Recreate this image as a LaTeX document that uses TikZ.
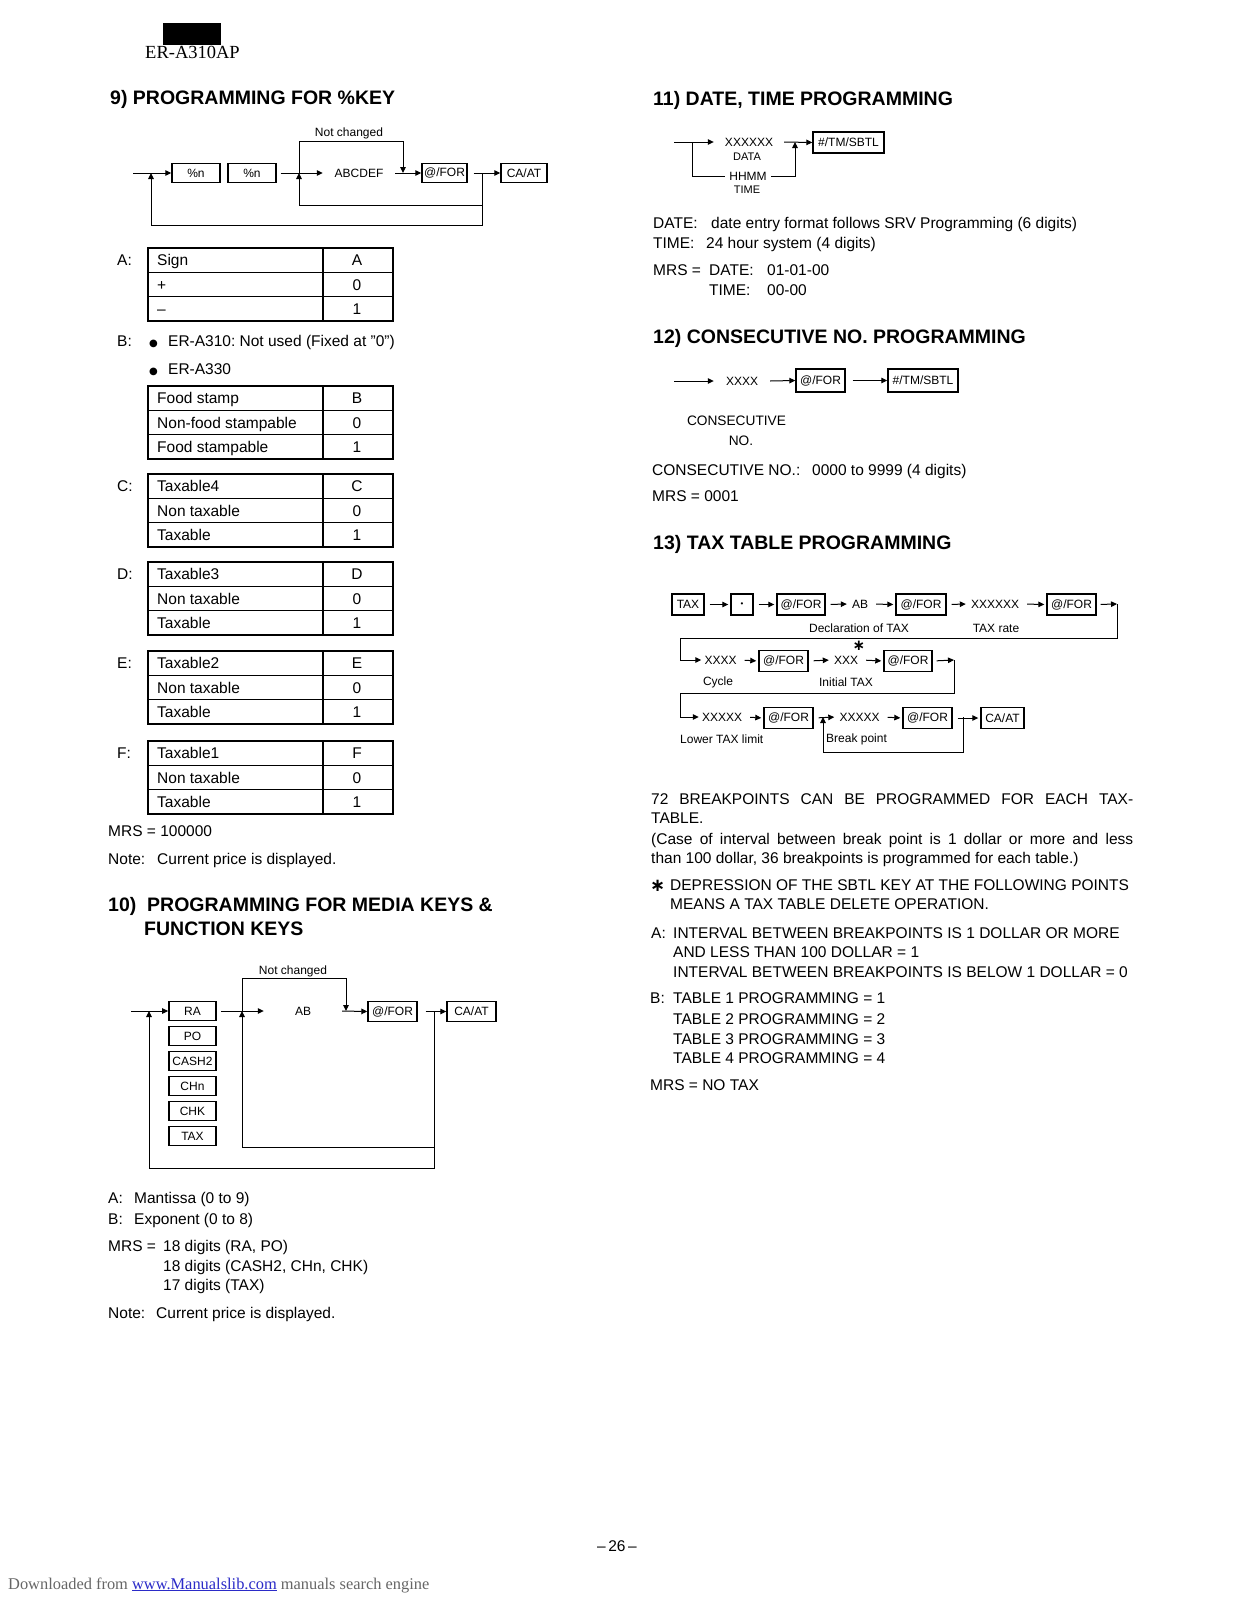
\documentclass[tikz,border=0pt]{standalone}
\usepackage{fontspec}
\setmainfont{Liberation Sans}
\newfontfamily\serifft{Liberation Serif}
\newfontfamily\djv{DejaVu Sans}
\usetikzlibrary{arrows.meta}
\frenchspacing
\newcommand\fbody{\fontsize{15.5}{19}\selectfont}
\newcommand\ftitle{\fontsize{19.5}{23}\selectfont\bfseries}
\newcommand\fdiag{\fontsize{12}{14}\selectfont}
\newcommand\fsmall{\fontsize{11}{13}\selectfont}
\newcommand\fcons{\fontsize{13.7}{16}\selectfont}
\newcommand\bigbul{{\djv\fontsize{10}{10}\selectfont ●}}
\definecolor{dlgray}{HTML}{666666}
\definecolor{dlblue}{HTML}{2B2BC8}
\tikzset{
 kbox/.style={draw, line width=1.4pt, minimum height=19pt, inner sep=0pt, font=\fdiag},
 arr/.style={line width=1pt, -{Triangle[length=6pt,width=5.5pt]}},
 a13/.style={arr, shorten <=5pt, shorten >=2pt},
 ln/.style={line width=1pt},
 txt/.style={anchor=base west, inner sep=0pt, font=\fbody},
 ttl/.style={anchor=base west, inner sep=0pt, font=\ftitle},
 lbl/.style={inner sep=0pt, font=\fdiag},
 lbl3/.style={inner ysep=0pt, inner xsep=3pt, font=\fdiag},
}
\newcommand\tbl[9]{%
 \draw[line width=1pt] (148,{#1+24.3}) -- (393,{#1+24.3});
 \draw[line width=1pt] (148,{#1+48.7}) -- (393,{#1+48.7});
 \draw[line width=1.2pt] (323,#1) -- (323,{#1+73});
 \draw[line width=2pt] (148,#1) rectangle (393,{#1+73});
 \node[txt] (#2lab) at (117,{#1+17.7}) {#3};
 \node[txt] (#2a) at (157,{#1+17.7}) {#4};
 \node[txt,anchor=base] (#2b) at (357,{#1+17.7}) {#5};
 \node[txt] (#2c) at (157,{#1+42}) {#6};
 \node[txt,anchor=base] (#2d) at (357,{#1+42}) {#7};
 \node[txt] (#2e) at (157,{#1+66.3}) {#8};
 \node[txt,anchor=base] (#2f) at (357,{#1+66.3}) {#9};
}
\begin{document}
\begin{tikzpicture}[x=1pt,y=-1pt]
\useasboundingbox[fill=white] (0,0) rectangle (1237,1600);

% header
\fill (163,23) rectangle (221,45);
\node[anchor=base west, inner sep=0pt, font=\serifft\fontsize{18.5}{20}\selectfont] (hdr) at (145,59) {ER-A310AP};

% ===== 9 =====
\node[ttl] (t9) at (110,105) {9) PROGRAMMING FOR \%KEY};
\coordinate (s9) at (133,173);
\node[kbox,minimum width=48pt] (p1) at (196,173) {\%n};
\node[kbox,minimum width=48pt] (p2) at (252,173) {\%n};
\node[lbl,minimum width=72pt,minimum height=12pt] (abc) at (359,173) {ABCDEF};
\node[kbox,minimum width=45pt] (for9) at (444.5,173) {@/FOR};
\node[kbox,minimum width=46pt] (ca9) at (524,173) {CA/AT};
\node[lbl] (nc9) at (349,133) {Not changed};
\coordinate (j91) at (151,173);
\coordinate (j92) at (299,173);
\coordinate (j93) at (403,173);
\coordinate (j94) at (482,173);
\draw[arr] (s9) -- (p1.west);
\draw[arr,shorten <=4pt] (p2.east) -- (abc.west);
\draw[arr] (abc.east) -- (for9.west);
\draw[arr,shorten <=6pt] (for9.east) -- (ca9.west);
\draw[arr] (j92) -- ++(0,-32) -| (j93);
\draw[arr] (j94) -- ++(0,32) -| (j92);
\draw[arr] (j94) -- ++(0,52) -| (j91);

% tables
\tbl{248}{tA}{A:}{Sign}{A}{+}{0}{–}{1}
\node[txt] (bl) at (117,346) {B:};
\node[txt] (bb1) at (149,346) {\bigbul};
\node[txt] (bt1) at (168,346) {ER-A310: Not used (Fixed at \char"22 0\char"22)};
\node[txt] (bb2) at (149,374) {\bigbul};
\node[txt] (bt2) at (168,374) {ER-A330};
\tbl{386}{tB}{}{Food stamp}{B}{Non-food stampable}{0}{Food stampable}{1}
\tbl{474}{tC}{C:}{Taxable4}{C}{Non taxable}{0}{Taxable}{1}
\tbl{562}{tD}{D:}{Taxable3}{D}{Non taxable}{0}{Taxable}{1}
\tbl{651}{tE}{E:}{Taxable2}{E}{Non taxable}{0}{Taxable}{1}
\tbl{741}{tF}{F:}{Taxable1}{F}{Non taxable}{0}{Taxable}{1}
\node[txt] (mrs9) at (108,836) {MRS = 100000};
\node[txt] (n9a) at (108,864) {Note:};
\node[txt] (n9b) at (157,864) {Current price is displayed.};

% ===== 10 =====
\node[ttl] (t10a) at (108,911) {10)\ \ PROGRAMMING FOR MEDIA KEYS \&};
\node[ttl] (t10b) at (144,935) {FUNCTION KEYS};
\coordinate (s10) at (131,1011);
\node[kbox,minimum width=47pt,line width=1.7pt] (ra) at (192.5,1011) {RA};
\node[kbox,minimum width=47pt] (po) at (192.5,1036) {PO};
\node[kbox,minimum width=47pt] (cash) at (192.5,1061) {CASH2};
\node[kbox,minimum width=47pt] (chn) at (192.5,1086) {CHn};
\node[kbox,minimum width=47pt] (chk) at (192.5,1111) {CHK};
\node[kbox,minimum width=47pt] (tax10) at (192.5,1136) {TAX};
\node[lbl,minimum width=78pt,minimum height=12pt] (ab10) at (303,1011) {AB};
\node[kbox,minimum width=49pt,minimum height=20pt] (for10) at (392.5,1011.5) {@/FOR};
\node[kbox,minimum width=49pt,minimum height=20pt] (ca10) at (471.5,1011.5) {CA/AT};
\node[lbl] (nc10) at (293,971) {Not changed};
\coordinate (j101) at (149,1011);
\coordinate (j102) at (242,1011);
\coordinate (j103) at (346,1011);
\coordinate (j104) at (434,1011);
\draw[arr] (s10) -- (ra.west);
\draw[arr,shorten <=4pt] (ra.east) -- (ab10.west);
\draw[arr] (ab10.east) -- (for10.west);
\draw[arr,shorten <=8pt] (for10.east) -- (ca10.west);
\draw[arr] (j102) -- ++(0,-33) -| (j103);
\draw[arr] (j104) -- ++(0,136) -| (j102);
\draw[arr] (j104) -- ++(0,157) -| (j101);

\node[txt] (a10a) at (108,1203) {A:};
\node[txt] (a10b) at (134,1203) {Mantissa (0 to 9)};
\node[txt] (b10a) at (108,1224) {B:};
\node[txt] (b10b) at (134,1224) {Exponent (0 to 8)};
\node[txt] (m10a) at (108,1251) {MRS =};
\node[txt] (m10b) at (163,1251) {18 digits (RA, PO)};
\node[txt] (m10c) at (163,1271) {18 digits (CASH2, CHn, CHK)};
\node[txt] (m10d) at (163,1290) {17 digits (TAX)};
\node[txt] (n10a) at (108,1318) {Note:};
\node[txt] (n10b) at (156,1318) {Current price is displayed.};

% ===== 11 =====
\node[ttl] (t11) at (653,106) {11) DATE, TIME PROGRAMMING};
\coordinate (s11) at (674,142);
\node[lbl,minimum width=70pt,minimum height=12pt] (x11) at (749,142) {XXXXXX};
\node[lbl,font=\fsmall] (d11) at (747,157) {DATA};
\node[lbl,minimum width=46pt,minimum height=12pt] (h11) at (748,176) {HHMM};
\node[lbl,font=\fsmall] (tm11) at (747,190) {TIME};
\node[kbox,minimum width=71pt,minimum height=21pt] (b11) at (848.5,142.5) {\#/TM/SBTL};
\coordinate (j111) at (692,142);
\coordinate (j112) at (795,142);
\draw[arr] (s11) -- (x11.west);
\draw[ln] (j111) |- (h11.west);
\draw[arr] (h11.east) -| (j112);
\draw[arr] (x11.east) -- (b11.west);

\node[txt] (d11a) at (653,228) {DATE:};
\node[txt] (d11b) at (711,228) {date entry format follows SRV Programming (6 digits)};
\node[txt] (t11a) at (653,248) {TIME:};
\node[txt] (t11b) at (706,248) {24 hour system (4 digits)};
\node[txt] (m11a) at (653,275) {MRS =};
\node[txt] (m11b) at (709,275) {DATE:};
\node[txt] (m11c) at (767,275) {01-01-00};
\node[txt] (m11d) at (709,295) {TIME:};
\node[txt] (m11e) at (767,295) {00-00};

% ===== 12 =====
\node[ttl] (t12) at (653,343) {12) CONSECUTIVE NO. PROGRAMMING};
\coordinate (s12) at (674,381);
\node[lbl,minimum width=56pt,minimum height=12pt] (x12) at (742,381) {XXXX};
\node[kbox,minimum width=49pt,minimum height=23pt] (f12) at (820.5,380.5) {@/FOR};
\node[kbox,minimum width=70pt,minimum height=23pt] (b12) at (923,380.5) {\#/TM/SBTL};
\draw[arr] (s12) -- (x12.west);
\draw[arr] (x12.east) -- (f12.west);
\draw[arr,shorten <=7pt] (f12.east) -- (b12.west);
\node[lbl,font=\fcons] (cn1) at (736.5,421) {CONSECUTIVE};
\node[lbl,font=\fcons] (cn2) at (741,441) {NO.};
\node[txt] (c12a) at (652,475) {CONSECUTIVE NO.:};
\node[txt] (c12b) at (812,475) {0000 to 9999 (4 digits)};
\node[txt] (m12) at (652,501) {MRS = 0001};

% ===== 13 =====
\node[ttl] (t13) at (653,549) {13) TAX TABLE PROGRAMMING};
\node[kbox,minimum width=32pt,minimum height=21pt] (tax13) at (688,604.5) {TAX};
\node[kbox,minimum width=22pt,minimum height=21pt] (dot13) at (742,604.5) {{\fontsize{8}{8}\selectfont\textbullet}};
\node[kbox,minimum width=48pt,minimum height=21pt] (f131) at (801,604.5) {@/FOR};
\node[lbl3] (ab13) at (860,604) {AB};
\node[kbox,minimum width=50pt,minimum height=21pt] (f132) at (921,604.5) {@/FOR};
\node[lbl3] (x13) at (995,604) {XXXXXX};
\node[kbox,minimum width=49pt,minimum height=21pt] (f133) at (1071.5,604.5) {@/FOR};
\coordinate (c131) at (1117,604);
\coordinate (c132) at (680,660);
\draw[a13] (tax13.east) -- (dot13.west);
\draw[a13] (dot13.east) -- (f131.west);
\draw[a13] (f131.east) -- (ab13.west);
\draw[a13] (ab13.east) -- (f132.west);
\draw[a13] (f132.east) -- (x13.west);
\draw[a13] (x13.east) -- (f133.west);
\draw[arr,shorten <=4pt] (f133.east) -- (c131);
\draw[ln] (c131) -- ++(0,34) -| (c132);
\node[lbl] (dec13) at (859,628) {Declaration of TAX};
\node[lbl] (rate13) at (996,628) {TAX rate};

\node[lbl3] (x131) at (720.5,660) {XXXX};
\node[kbox,minimum width=49pt,minimum height=21pt] (f134) at (783.5,661) {@/FOR};
\node[lbl3] (x132) at (846,660) {XXX};
\node[anchor=base, inner sep=0pt, font=\djv\bfseries\fontsize{15}{15}\selectfont] (ast13) at (859,650) {∗};
\node[kbox,minimum width=48pt,minimum height=21pt] (f135) at (908,661) {@/FOR};
\coordinate (c133) at (954,660);
\coordinate (c134) at (680,717);
\draw[arr] (c132) -- (x131.west);
\draw[a13] (x131.east) -- (f134.west);
\draw[a13] (f134.east) -- (x132.west);
\draw[a13] (x132.east) -- (f135.west);
\draw[arr,shorten <=4pt] (f135.east) -- (c133);
\draw[ln] (c133) -- ++(0,33) -| (c134);
\node[lbl] (cyc13) at (718,682) {Cycle};
\node[lbl] (ini13) at (846,682) {Initial TAX};

\node[lbl3] (x133) at (722,717) {XXXXX};
\node[kbox,minimum width=49pt,minimum height=21pt] (f136) at (788.5,718) {@/FOR};
\node[lbl3] (x134) at (859.5,717) {XXXXX};
\node[kbox,minimum width=49pt,minimum height=21pt] (f137) at (927.5,718) {@/FOR};
\node[kbox,minimum width=43pt,minimum height=21pt] (ca13) at (1002.5,718) {CA/AT};
\coordinate (j131) at (823,717);
\coordinate (j132) at (963,717);
\draw[arr] (c134) -- (x133.west);
\draw[a13] (x133.east) -- (f136.west);
\draw[a13] (f136.east) -- (x134.west);
\draw[a13] (x134.east) -- (f137.west);
\draw[a13] (f137.east) -- (ca13.west);
\draw[arr] (j132) -- ++(0,35) -| (j131);
\node[lbl,anchor=west] (low13) at (680,739) {Lower TAX limit};
\node[lbl,anchor=west] (brk13) at (826,739) {Break point};

\node[txt] (p1a) at (651,804) {\makebox[482pt][s]{72 BREAKPOINTS CAN BE PROGRAMMED FOR EACH TAX-}};
\node[txt] (p1b) at (651,823) {TABLE.};
\node[txt] (p1c) at (651,844) {\makebox[482pt][s]{(Case of interval between break point is 1 dollar or more and less}};
\node[txt] (p1d) at (651,863) {than 100 dollar, 36 breakpoints is programmed for each table.)};
\node[txt,font=\djv\bfseries\fontsize{18}{18}\selectfont] (p2a) at (650,891) {∗};
\node[txt] (p2b) at (670,890) {DEPRESSION OF THE SBTL KEY AT THE FOLLOWING POINTS};
\node[txt] (p2c) at (670,909) {MEANS A TAX TABLE DELETE OPERATION.};
\node[txt] (p3a) at (651,938) {A:};
\node[txt] (p3b) at (673,938) {INTERVAL BETWEEN BREAKPOINTS IS 1 DOLLAR OR MORE};
\node[txt] (p3c) at (673,957) {AND LESS THAN 100 DOLLAR = 1};
\node[txt] (p3d) at (673,977) {INTERVAL BETWEEN BREAKPOINTS IS BELOW 1 DOLLAR = 0};
\node[txt] (p4a) at (650,1003) {B:};
\node[txt] (p4b) at (673,1003) {TABLE 1 PROGRAMMING = 1};
\node[txt] (p4c) at (673,1024) {TABLE 2 PROGRAMMING = 2};
\node[txt] (p4d) at (673,1044) {TABLE 3 PROGRAMMING = 3};
\node[txt] (p4e) at (673,1063) {TABLE 4 PROGRAMMING = 4};
\node[txt] (p5) at (650,1090) {MRS = NO TAX};

% page number and footer
\node[txt,anchor=base] (pg) at (617,1551) {–\,26\,–};
\node[anchor=base west, inner sep=0pt, font=\serifft\fontsize{16.4}{18}\selectfont, text=dlgray] (dl) at (8,1589) {Downloaded from \textcolor{dlblue}{\underline{www.Manualslib.com}} manuals search engine};
\end{tikzpicture}
\end{document}
